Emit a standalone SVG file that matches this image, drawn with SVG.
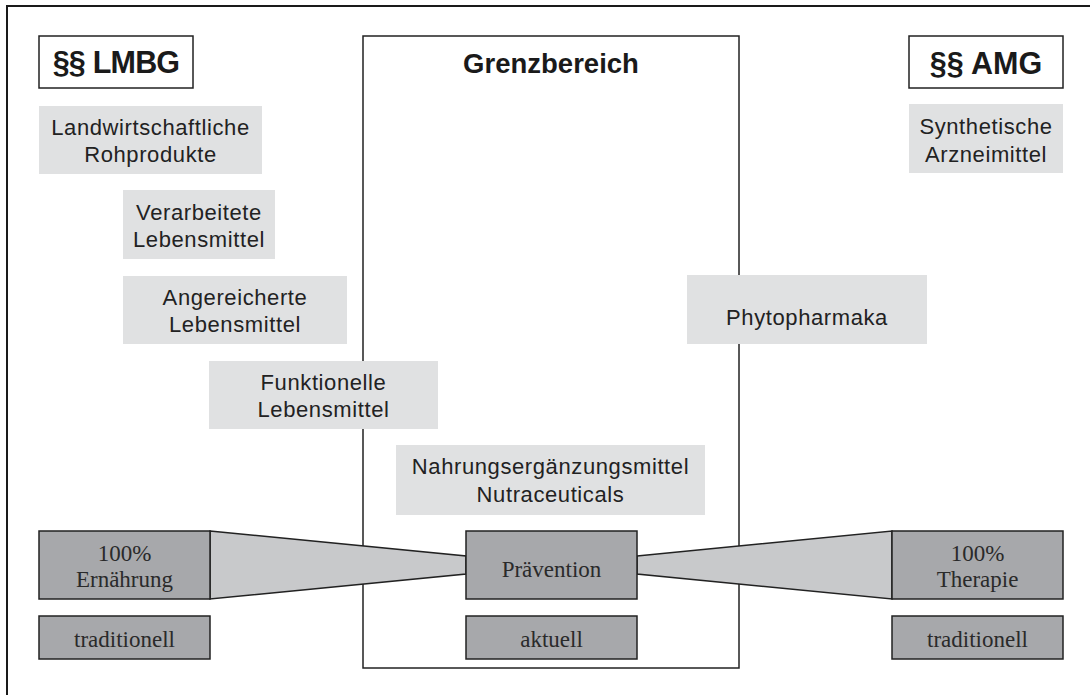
<svg xmlns="http://www.w3.org/2000/svg" width="1090" height="695" viewBox="0 0 1090 695">
<style>
.frame{fill:none;stroke:#1a1a1a;stroke-width:2}
.law{fill:#fff;stroke:#222;stroke-width:1.5}
.lawt{font-family:"Liberation Sans",Arial,sans-serif;font-weight:bold;font-size:30.5px;fill:#1a1a1a;text-anchor:middle}
.light{fill:#e0e1e2;stroke:none}
.lt{font-family:"Liberation Sans",Arial,sans-serif;font-size:22px;fill:#222;text-anchor:middle;letter-spacing:0.6px}
.dark{fill:#a7a8ab;stroke:#222;stroke-width:1.5}
.dt{font-family:"Liberation Serif","Times New Roman",serif;font-size:23px;fill:#2a2a2a;text-anchor:middle}
.trap{fill:#c8c9cb;stroke:#222;stroke-width:1.5;stroke-linejoin:miter}
</style>
<rect width="1090" height="695" fill="#fff"/>
<path class="frame" d="M7,695 V6 H1090"/>
<g id="grenzbereich">
<rect x="363" y="36" width="376" height="632" fill="#fff" stroke="#222" stroke-width="1.5"/>
<text x="551" y="73" font-family="Liberation Sans,Arial,sans-serif" font-weight="bold" font-size="27.5" fill="#1a1a1a" text-anchor="middle">Grenzbereich</text>
</g>
<g id="lmbg">
<rect class="law" x="39" y="36" width="154" height="52"/>
<text class="lawt" x="116" y="73" letter-spacing="-0.8">§§ LMBG</text>
</g>
<g id="amg">
<rect class="law" x="909" y="36" width="154" height="52"/>
<text class="lawt" x="986" y="74">§§ AMG</text>
</g>
<g id="landwirtschaftliche">
<rect class="light" x="39" y="106" width="223" height="68"/>
<text class="lt" x="150.5" y="135">Landwirtschaftliche</text>
<text class="lt" x="150.5" y="162">Rohprodukte</text>
</g>
<g id="verarbeitete">
<rect class="light" x="123" y="190" width="152" height="69"/>
<text class="lt" x="199" y="220">Verarbeitete</text>
<text class="lt" x="199" y="247">Lebensmittel</text>
</g>
<g id="angereicherte">
<rect class="light" x="123" y="276" width="224" height="68"/>
<text class="lt" x="235" y="305">Angereicherte</text>
<text class="lt" x="235" y="332">Lebensmittel</text>
</g>
<g id="funktionelle">
<rect class="light" x="209" y="361" width="229" height="68"/>
<text class="lt" x="323.5" y="390">Funktionelle</text>
<text class="lt" x="323.5" y="417">Lebensmittel</text>
</g>
<g id="nahrungsergaenzung">
<rect class="light" x="396" y="445" width="309" height="70"/>
<text class="lt" x="550.5" y="474" letter-spacing="0.4">Nahrungsergänzungsmittel</text>
<text class="lt" x="550.5" y="502" letter-spacing="0.4">Nutraceuticals</text>
</g>
<g id="synthetische">
<rect class="light" x="909" y="104" width="154" height="69"/>
<text class="lt" x="986" y="134">Synthetische</text>
<text class="lt" x="986" y="162">Arzneimittel</text>
</g>
<g id="phytopharmaka">
<rect class="light" x="687" y="275" width="240" height="69"/>
<text class="lt" x="807" y="325">Phytopharmaka</text>
</g>
<g id="connectors">
<polygon class="trap" points="210,531 466,556 466,574 210,599"/>
<polygon class="trap" points="637,556 892,531 892,599 637,574"/>
</g>
<g id="ernaehrung">
<rect class="dark" x="39" y="531" width="171" height="68"/>
<text class="dt" x="124.5" y="561">100%</text>
<text class="dt" x="124.5" y="587">Ernährung</text>
</g>
<g id="praevention">
<rect class="dark" x="466" y="531" width="171" height="68"/>
<text class="dt" x="551.5" y="577">Prävention</text>
</g>
<g id="therapie">
<rect class="dark" x="892" y="531" width="171" height="68"/>
<text class="dt" x="977.5" y="561">100%</text>
<text class="dt" x="977.5" y="587">Therapie</text>
</g>
<g id="traditionell-left">
<rect class="dark" x="39" y="616" width="171" height="43"/>
<text class="dt" x="124.5" y="647">traditionell</text>
</g>
<g id="aktuell">
<rect class="dark" x="466" y="616" width="171" height="43"/>
<text class="dt" x="551.5" y="647">aktuell</text>
</g>
<g id="traditionell-right">
<rect class="dark" x="892" y="616" width="171" height="43"/>
<text class="dt" x="977.5" y="647">traditionell</text>
</g>
</svg>
